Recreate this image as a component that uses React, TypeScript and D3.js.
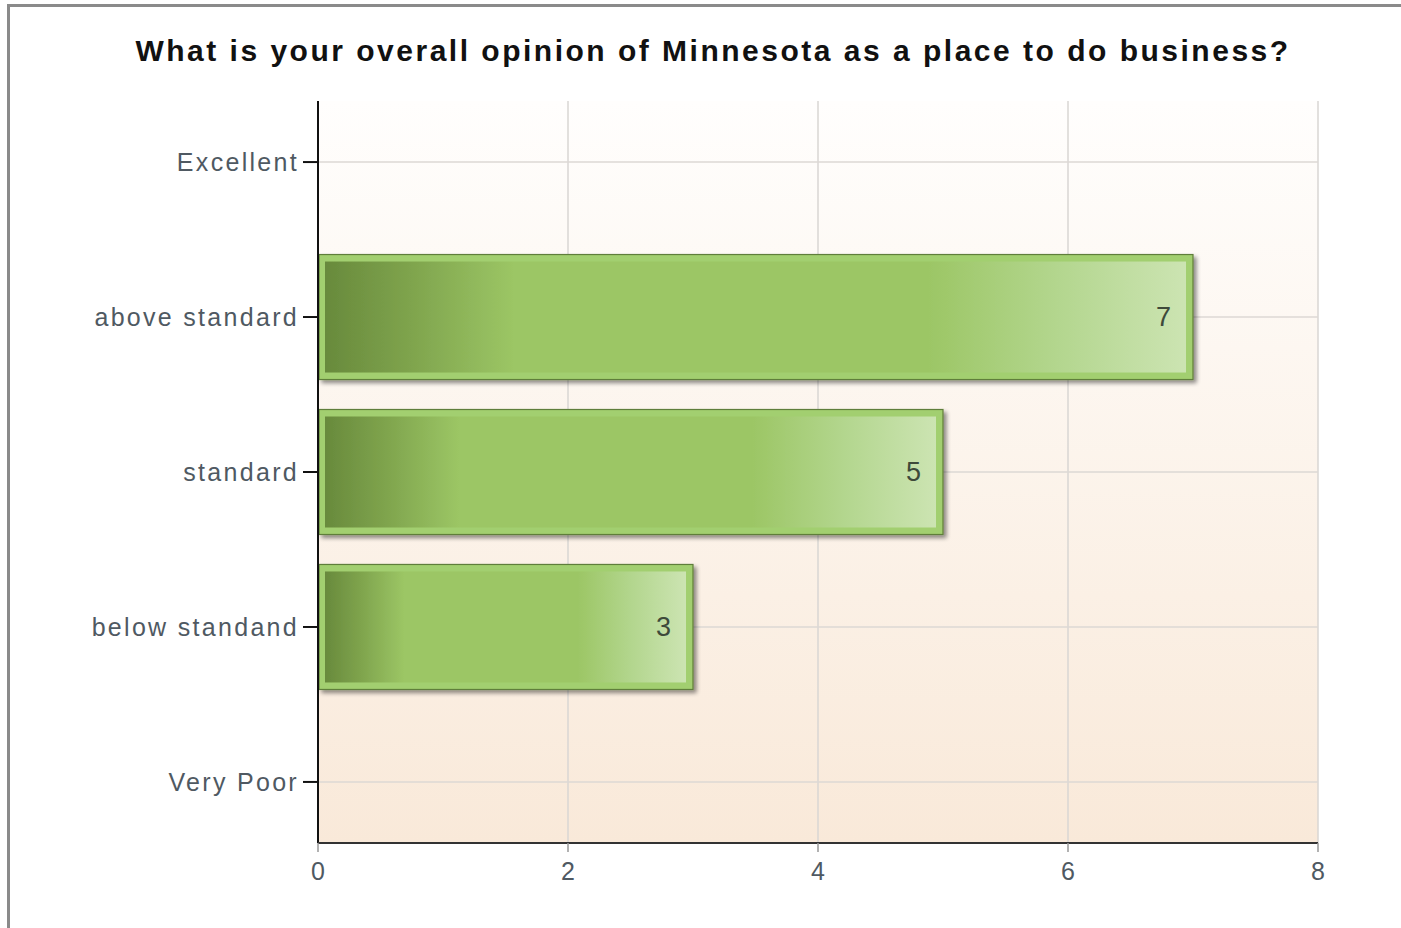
import React from "react";
import * as d3 from "d3";

const title = "What is your overall opinion of Minnesota as a place to do business?";
const categories = ["Excellent", "above standard", "standard", "below standand", "Very Poor"];
const values = [0, 7, 5, 3, 0];
const xTicks = [0, 2, 4, 6, 8];

const W = 1401;
const H = 928;
const M = { left: 318, right: 1318, top: 101, bottom: 843 };

export default function App() {
  const x = d3.scaleLinear().domain([0, 8]).range([M.left, M.right]);
  const y = d3.scalePoint<string>().domain(categories).range([M.top, M.bottom]).padding(0.394);
  const barH = 125;
  const font = "Arial, 'Liberation Sans', sans-serif";
  return (
    <svg width={W} height={H} style={{ position: "absolute", left: 0, top: 0 }}>
      <defs>
        <linearGradient id="bg" x1="0" y1="0" x2="0" y2="1">
          <stop offset="0" stopColor="#fffefd" />
          <stop offset="1" stopColor="#f9e9d9" />
        </linearGradient>
        <linearGradient id="bar" x1="0" y1="0" x2="1" y2="0">
          <stop offset="0" stopColor="#688a3c" />
          <stop offset="0.1" stopColor="#7fa44d" />
          <stop offset="0.22" stopColor="#9cc665" />
          <stop offset="0.7" stopColor="#9cc665" />
          <stop offset="0.85" stopColor="#b3d68e" />
          <stop offset="1" stopColor="#cce4b2" />
        </linearGradient>
        <filter id="shadow" x="-10%" y="-20%" width="130%" height="150%">
          <feGaussianBlur in="SourceAlpha" stdDeviation="2" />
          <feOffset dx="3" dy="3" result="b" />
          <feComponentTransfer>
            <feFuncA type="linear" slope="0.45" />
          </feComponentTransfer>
          <feMerge>
            <feMergeNode />
            <feMergeNode in="SourceGraphic" />
          </feMerge>
        </filter>
      </defs>
      <rect x={0} y={0} width={W} height={H} fill="#ffffff" />
      <rect x={8.5} y={5.5} width={W + 20} height={H + 20} fill="none" stroke="#8a8a8a" strokeWidth={3} />
      <text x={713} y={61} textAnchor="middle" fontFamily={font} fontWeight="bold" fontSize={30} fill="#111" letterSpacing={2.5}>
        {title}
      </text>
      <rect x={M.left} y={M.top} width={M.right - M.left} height={M.bottom - M.top} fill="url(#bg)" />
      {xTicks.slice(1).map((t) => (
        <line key={"gx" + t} x1={x(t)} x2={x(t)} y1={M.top} y2={M.bottom} stroke="#d9d6d3" strokeWidth={1.5} />
      ))}
      {categories.map((c) => (
        <line key={"gy" + c} x1={M.left} x2={M.right} y1={y(c)!} y2={y(c)!} stroke="#dcd8d4" strokeWidth={1.5} />
      ))}
      {categories.map((c, i) =>
        values[i] > 0 ? (
          <g key={"b" + c} filter="url(#shadow)">
            <rect x={x(0) + 1} y={y(c)! - barH / 2} width={x(values[i]) - x(0) - 1} height={barH} fill="#a2cf6f" stroke="#5f7e3a" strokeWidth={1.2} />
            <rect x={x(0) + 7} y={y(c)! - barH / 2 + 7} width={x(values[i]) - x(0) - 14} height={barH - 14} fill="url(#bar)" />
          </g>
        ) : null
      )}
      {categories.map((c, i) =>
        values[i] > 0 ? (
          <text key={"v" + c} x={x(values[i]) - 22} y={y(c)! + 9} textAnchor="end" fontFamily={font} fontSize={27} fill="#3e4a3a">
            {values[i]}
          </text>
        ) : null
      )}
      <line x1={M.left} x2={M.left} y1={M.top} y2={M.bottom} stroke="#111" strokeWidth={2} />
      <line x1={M.left} x2={M.right} y1={M.bottom} y2={M.bottom} stroke="#333" strokeWidth={2} />
      {categories.map((c) => (
        <g key={"t" + c}>
          <line x1={M.left - 15} x2={M.left} y1={y(c)!} y2={y(c)!} stroke="#111" strokeWidth={2} />
          <text x={M.left - 19} y={y(c)! + 9} textAnchor="end" fontFamily={font} fontSize={25} fill="#4f5962" letterSpacing={2.3}>
            {c}
          </text>
        </g>
      ))}
      {xTicks.map((t) => (
        <g key={"xt" + t}>
          <line x1={x(t)} x2={x(t)} y1={M.bottom} y2={M.bottom + 9} stroke="#999" strokeWidth={1.5} />
          <text x={x(t)} y={880} textAnchor="middle" fontFamily={font} fontSize={25} fill="#4f5962">
            {t}
          </text>
        </g>
      ))}
    </svg>
  );
}
